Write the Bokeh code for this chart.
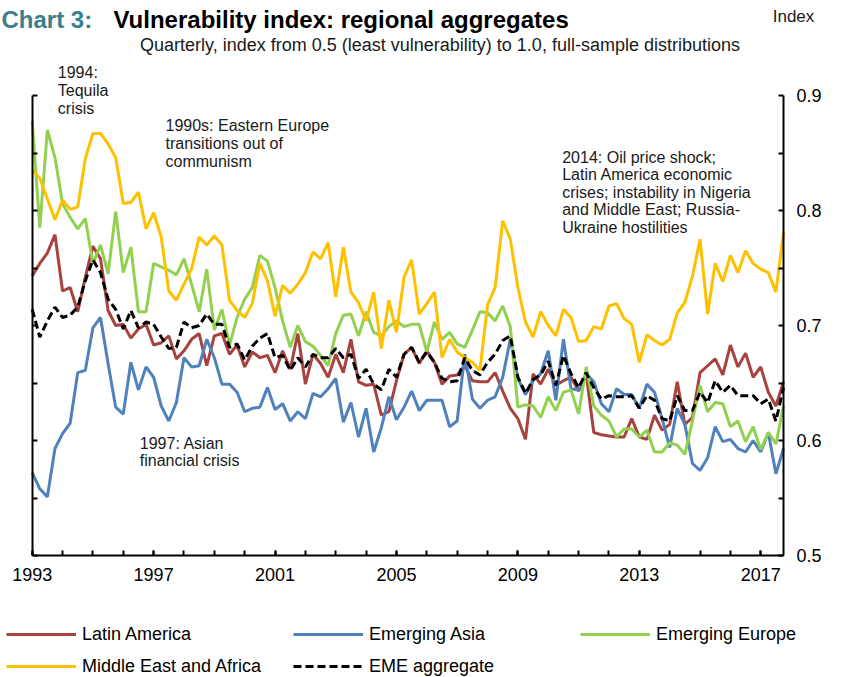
from bokeh.plotting import figure
from bokeh.models import (Range1d, LinearAxis, FixedTicker, Label, Legend, LegendItem,
                          PrintfTickFormatter, CustomJSTickFormatter, ColumnDataSource)
from bokeh.embed import file_html
from bokeh.resources import INLINE

# ---------------- data ----------------
quarters = [f"{y}Q{q}" for y in range(1993, 2018) for q in range(1, 5)]
t = [int(s[:4]) + (int(s[-1]) - 1) / 4 for s in quarters]

year_ticks = [1993, 1997, 2001, 2005, 2009, 2013, 2017]
year_minor = list(range(1993, 2018))
index_ticks = [0.5, 0.6, 0.7, 0.8, 0.9]
index_minor = [0.55, 0.65, 0.75, 0.85]

latin_america = [
    0.743, 0.754, 0.763, 0.779, 0.730, 0.733, 0.712, 0.742, 0.769, 0.758,
    0.713, 0.700, 0.701, 0.689, 0.697, 0.701, 0.683, 0.685, 0.691, 0.671,
    0.678, 0.688, 0.693, 0.665, 0.691, 0.693, 0.675, 0.683, 0.664, 0.677,
    0.672, 0.674, 0.659, 0.678, 0.662, 0.693, 0.649, 0.675, 0.667, 0.655,
    0.675, 0.659, 0.688, 0.651, 0.648, 0.649, 0.622, 0.625, 0.652, 0.675,
    0.681, 0.667, 0.678, 0.668, 0.649, 0.656, 0.657, 0.665, 0.652, 0.651,
    0.651, 0.659, 0.643, 0.628, 0.619, 0.601, 0.658, 0.649, 0.662, 0.648,
    0.652, 0.655, 0.643, 0.658, 0.607, 0.605, 0.604, 0.603, 0.603, 0.619,
    0.603, 0.601, 0.622, 0.609, 0.614, 0.651, 0.614, 0.620, 0.659, 0.665,
    0.671, 0.657, 0.683, 0.664, 0.676, 0.655, 0.664, 0.642, 0.630, 0.651]

emerging_asia = [
    0.572, 0.558, 0.551, 0.593, 0.606, 0.615, 0.659, 0.661, 0.698, 0.707,
    0.667, 0.629, 0.623, 0.668, 0.644, 0.664, 0.655, 0.630, 0.617, 0.633,
    0.672, 0.664, 0.665, 0.688, 0.672, 0.649, 0.649, 0.642, 0.625, 0.628,
    0.629, 0.646, 0.627, 0.632, 0.617, 0.625, 0.619, 0.641, 0.638, 0.645,
    0.654, 0.616, 0.633, 0.603, 0.628, 0.590, 0.611, 0.638, 0.618, 0.629,
    0.643, 0.626, 0.635, 0.635, 0.635, 0.612, 0.617, 0.675, 0.636, 0.628,
    0.635, 0.638, 0.655, 0.688, 0.654, 0.640, 0.652, 0.658, 0.678, 0.635,
    0.688, 0.645, 0.644, 0.658, 0.651, 0.632, 0.625, 0.645, 0.640, 0.640,
    0.628, 0.649, 0.642, 0.619, 0.594, 0.628, 0.614, 0.580, 0.574, 0.585,
    0.612, 0.599, 0.601, 0.593, 0.590, 0.600, 0.590, 0.607, 0.571, 0.593]

emerging_europe = [
    0.878, 0.785, 0.870, 0.846, 0.806, 0.794, 0.784, 0.793, 0.754, 0.770,
    0.745, 0.799, 0.746, 0.768, 0.712, 0.712, 0.754, 0.751, 0.748, 0.744,
    0.758, 0.736, 0.712, 0.749, 0.696, 0.714, 0.683, 0.707, 0.723, 0.733,
    0.761, 0.756, 0.733, 0.704, 0.681, 0.700, 0.686, 0.682, 0.674, 0.665,
    0.693, 0.709, 0.710, 0.691, 0.712, 0.694, 0.691, 0.699, 0.704, 0.699,
    0.701, 0.701, 0.677, 0.703, 0.688, 0.694, 0.684, 0.681, 0.696, 0.712,
    0.711, 0.704, 0.717, 0.699, 0.629, 0.631, 0.630, 0.620, 0.638, 0.626,
    0.642, 0.644, 0.623, 0.664, 0.630, 0.622, 0.617, 0.603, 0.610, 0.610,
    0.603, 0.609, 0.590, 0.590, 0.598, 0.596, 0.588, 0.617, 0.648, 0.625,
    0.633, 0.632, 0.612, 0.617, 0.599, 0.612, 0.592, 0.607, 0.597, 0.630]

middle_east_africa = [
    0.835, 0.828, 0.810, 0.792, 0.809, 0.801, 0.803, 0.845, 0.867, 0.867,
    0.858, 0.846, 0.806, 0.807, 0.816, 0.784, 0.798, 0.777, 0.730, 0.722,
    0.736, 0.749, 0.777, 0.770, 0.778, 0.770, 0.722, 0.713, 0.707, 0.719,
    0.754, 0.739, 0.708, 0.735, 0.728, 0.736, 0.746, 0.764, 0.758, 0.772,
    0.725, 0.768, 0.729, 0.720, 0.704, 0.729, 0.680, 0.722, 0.694, 0.742,
    0.757, 0.710, 0.719, 0.729, 0.672, 0.688, 0.677, 0.672, 0.668, 0.661,
    0.718, 0.733, 0.791, 0.775, 0.733, 0.703, 0.690, 0.712, 0.700, 0.691,
    0.714, 0.707, 0.686, 0.687, 0.699, 0.697, 0.717, 0.719, 0.706, 0.701,
    0.668, 0.692, 0.687, 0.683, 0.688, 0.711, 0.720, 0.743, 0.775, 0.710,
    0.754, 0.738, 0.761, 0.746, 0.765, 0.754, 0.749, 0.746, 0.729, 0.781]

eme_aggregate = [
    0.714, 0.690, 0.704, 0.716, 0.707, 0.709, 0.716, 0.739, 0.757, 0.746,
    0.723, 0.714, 0.697, 0.713, 0.698, 0.703, 0.701, 0.690, 0.680, 0.681,
    0.703, 0.698, 0.700, 0.710, 0.701, 0.701, 0.681, 0.684, 0.670, 0.682,
    0.689, 0.693, 0.672, 0.674, 0.661, 0.672, 0.664, 0.675, 0.672, 0.672,
    0.680, 0.672, 0.675, 0.654, 0.662, 0.649, 0.644, 0.662, 0.655, 0.675,
    0.681, 0.668, 0.677, 0.668, 0.654, 0.651, 0.652, 0.672, 0.661, 0.657,
    0.668, 0.675, 0.687, 0.691, 0.655, 0.641, 0.653, 0.657, 0.669, 0.648,
    0.674, 0.658, 0.646, 0.659, 0.646, 0.636, 0.639, 0.638, 0.638, 0.639,
    0.628, 0.639, 0.635, 0.619, 0.617, 0.639, 0.626, 0.626, 0.642, 0.633,
    0.652, 0.642, 0.648, 0.639, 0.639, 0.639, 0.632, 0.636, 0.617, 0.646]

series_names = ["Latin America", "Emerging Asia", "Emerging Europe",
                "Middle East and Africa", "EME aggregate"]

# ---------------- layout ----------------
W, H = 850, 677
PL, PR, PT, PB = 31.7, 783.0, 95.0, 555.0   # plot-area edges in page pixels
X0, X1 = 1993.0, 2017.75
Y0, Y1 = 0.5, 0.9
FONT = "Liberation Sans"


def dx(cx):
    return X0 + (cx - PL) / (PR - PL) * (X1 - X0)


def dy(cy):
    return Y0 + (PB - cy) / (PB - PT) * (Y1 - Y0)


p = figure(width=W, height=H, x_range=Range1d(dx(0), dx(W)), y_range=Range1d(dy(H), dy(0)),
           output_backend="svg", toolbar_location=None,
           x_axis_location="below", y_axis_location=None,
           min_border=0, min_border_left=0, min_border_right=0,
           min_border_top=0, min_border_bottom=0)
p.outline_line_color = None
p.xgrid.visible = False
p.ygrid.visible = False
p.background_fill_color = "white"
p.border_fill_color = "white"


def style_axis(ax):
    ax.axis_line_color = "black"
    ax.axis_line_width = 2
    ax.major_tick_line_color = "black"
    ax.major_tick_line_width = 2
    ax.minor_tick_line_color = "black"
    ax.minor_tick_line_width = 2
    ax.major_tick_in = 5
    ax.major_tick_out = 0
    ax.minor_tick_in = 5
    ax.minor_tick_out = 0
    ax.major_label_text_font = FONT
    ax.major_label_text_font_size = "18px"
    ax.major_label_text_color = "black"


xa = p.xaxis[0]
xa.ticker = FixedTicker(ticks=year_ticks, minor_ticks=year_minor)
xa.fixed_location = Y0
xa.bounds = (X0, X1)
style_axis(xa)
xa.major_label_standoff = 12

ra = LinearAxis(ticker=FixedTicker(ticks=index_ticks, minor_ticks=index_minor),
                formatter=PrintfTickFormatter(format="%.1f"),
                fixed_location=X1, bounds=(Y0, Y1))
style_axis(ra)
ra.major_label_standoff = 13
p.add_layout(ra, "right")

la = LinearAxis(ticker=FixedTicker(ticks=index_ticks, minor_ticks=index_minor),
                formatter=CustomJSTickFormatter(code="return ''"),
                fixed_location=X0, bounds=(Y0, Y1))
style_axis(la)
la.major_label_standoff = 0
p.add_layout(la, "left")

src = ColumnDataSource(dict(t=t, la=latin_america, ea=emerging_asia, ee=emerging_europe,
                            mea=middle_east_africa, eme=eme_aggregate))

r_la = p.line("t", "la", source=src, line_color="#A8423F", line_width=3)
r_ea = p.line("t", "ea", source=src, line_color="#4F81BD", line_width=3)
r_ee = p.line("t", "ee", source=src, line_color="#92D050", line_width=3)
r_mea = p.line("t", "mea", source=src, line_color="#FFC000", line_width=3)
r_eme = p.line("t", "eme", source=src, line_color="black", line_width=3, line_dash="8 4")


def add_legend(r, label, cx, cy):
    leg = Legend(items=[LegendItem(label=label, renderers=[r])],
                 location=(cx, H - (cy + 11)),
                 orientation="vertical", padding=0, margin=0, spacing=0,
                 glyph_width=70, glyph_height=22, label_height=22, label_standoff=6,
                 border_line_color=None, background_fill_alpha=0,
                 label_text_font=FONT, label_text_font_size="18px",
                 label_text_color="black")
    p.add_layout(leg)


add_legend(r_la, series_names[0], 6, 634)
add_legend(r_ea, series_names[1], 293, 634)
add_legend(r_ee, series_names[2], 580, 634)
add_legend(r_mea, series_names[3], 6, 666)
add_legend(r_eme, series_names[4], 293, 666)


def add_text(txt, cx, cy, size="16px", align="left", baseline="middle",
             color="#1a1a1a", style="normal", lh=1.03):
    p.add_layout(Label(x=dx(cx), y=dy(cy), text=txt, text_font=FONT,
                       text_font_size=size, text_align=align, text_baseline=baseline,
                       text_color=color, text_font_style=style, text_line_height=lh))


# title
add_text("Chart 3:", 1, 19, size="24px", baseline="alphabetic",
         color="#3B7F8C", style="bold")
add_text("Vulnerability index: regional aggregates", 113, 19, size="24px",
         baseline="alphabetic", color="black", style="bold")

add_text("Index", 793, 16, size="17px", align="center")
add_text("Quarterly, index from 0.5 (least vulnerability) to 1.0, full-sample distributions",
         439.5, 44, size="18px", align="center")

add_text("1994:\nTequila\ncrisis", 57.3, 90)
add_text("1990s: Eastern Europe\ntransitions out of\ncommunism", 165, 143)
add_text("2014: Oil price shock;\nLatin America economic\ncrises; instability in Nigeria\n"
         "and Middle East; Russia-\nUkraine hostilities", 561.7, 191.7)
add_text("1997: Asian\nfinancial crisis", 139.3, 451.7)

open("out.html", "w").write(file_html(p, INLINE))
